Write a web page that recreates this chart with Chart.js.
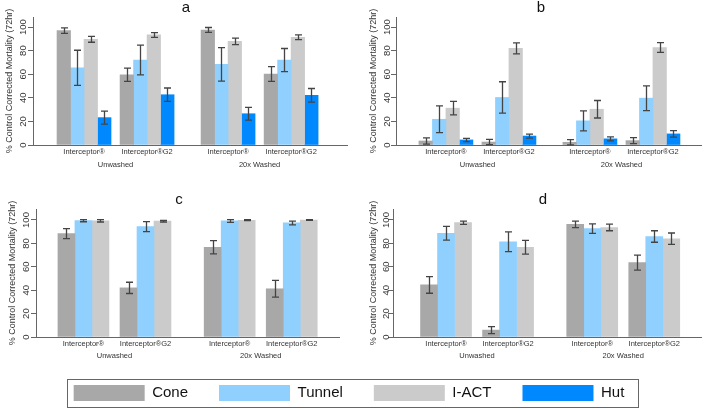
<!DOCTYPE html>
<html>
<head>
<meta charset="utf-8">
<script src="https://cdn.jsdelivr.net/npm/chart.js@4.4.0/dist/chart.umd.min.js"></script>
<style>
  html, body { margin: 0; padding: 0; background: #fff; }
  body { width: 708px; height: 409px; position: relative; overflow: hidden; }
  canvas.panel { position: absolute; }
  #legendBox { position: absolute; left: 67px; top: 379px; width: 572px; height: 29px;
    border: 1px solid #666; box-sizing: border-box; overflow: hidden; }
  #legendBox canvas { position: absolute; left: -29px; top: -26px; }
</style>
</head>
<body>
<canvas class="panel" id="chartA" width="372" height="180" style="left:0;top:0"></canvas>
<canvas class="panel" id="chartB" width="362" height="180" style="left:360px;top:0"></canvas>
<canvas class="panel" id="chartC" width="358" height="180" style="left:0;top:180px"></canvas>
<canvas class="panel" id="chartD" width="360" height="180" style="left:363px;top:180px"></canvas>
<div id="legendBox"><canvas id="legendChart" width="620" height="200"></canvas></div>
<script>
// categories
const methods = ['Cone', 'Tunnel', 'I-ACT', 'Hut'];
const products = ['Interceptor®', 'Interceptor®G2'];
const washes = ['Unwashed', '20x Washed'];
const yTicks = [0, 20, 40, 60, 80, 100];
const yTitle = '% Control Corrected Mortality (72hr)';

// values, order: Unwashed/Interceptor, Unwashed/G2, 20x/Interceptor, 20x/G2
const aCone = [97, 59.5, 97.5, 60.2];
const aConeErr = [2.3, 5.6, 2.1, 6.2];
const aTunnel = [65.4, 72, 68.3, 72];
const aTunnelErr = [14.9, 12.6, 14.2, 9.8];
const aIact = [89.6, 93.3, 87.8, 91.3];
const aIactErr = [2.5, 2, 2.8, 2];
const aHut = [23.2, 42.6, 26.5, 42.1];
const aHutErr = [5.5, 5.7, 5.4, 5.8];

const bCone = [3.4, 2.5, 2.3, 3.7];
const bConeErr = [2.7, 2.2, 2.2, 2.5];
const bTunnel = [21.8, 40.3, 20.5, 39.7];
const bTunnelErr = [11.3, 13.3, 8.5, 10.5];
const bIact = [31.2, 81.9, 30.3, 82.6];
const bIactErr = [5.7, 4.7, 7.4, 4.1];
const bHut = [4.3, 7.6, 5.2, 9.4];
const bHutErr = [1.4, 1.7, 1.7, 2.8];

const cCone = [88.4, 42, 76.7, 41.2];
const cConeErr = [4.3, 4.8, 5.7, 7.2];
const cTunnel = [99.4, 94.3, 99.2, 97.5];
const cTunnelErr = [0.9, 4.3, 1.2, 1.6];
const cIact = [99.3, 99, 99.8, 99.9];
const cIactErr = [1, 0.7, 0.4, 0.3];

const dCone = [44.5, 5.9, 96.3, 63.6];
const dConeErr = [7.1, 3, 2.8, 6.4];
const dTunnel = [88.7, 81.4, 92.6, 85.9];
const dTunnelErr = [5.9, 8.5, 4.1, 4.9];
const dIact = [97.7, 76.7, 93.6, 84];
const dIactErr = [1.4, 5.8, 2.8, 4.9];

const colors = ['#a8a8a8', '#8fd0ff', '#cbcbcb', '#0088ff'];
const FONT = "'Liberation Sans', Arial, sans-serif";
Chart.defaults.font.family = FONT;
Chart.defaults.color = '#333';

// draws the +/- error whiskers on top of each bar
const errorBars = {
  id: 'errorBars',
  afterDatasetsDraw(chart) {
    const ctx = chart.ctx;
    const y = chart.scales.y;
    ctx.save();
    ctx.strokeStyle = '#444';
    ctx.lineWidth = 1.3;
    chart.data.datasets.forEach((ds, i) => {
      chart.getDatasetMeta(i).data.forEach((bar, j) => {
        const v = ds.data[j].y, e = ds.errors[j];
        const hi = y.getPixelForValue(v + e);
        const lo = y.getPixelForValue(v - e);
        const x = Math.round(bar.x) + 0.5;
        ctx.beginPath();
        ctx.moveTo(x, hi); ctx.lineTo(x, lo);
        ctx.moveTo(x - 3.5, hi); ctx.lineTo(x + 3.5, hi);
        ctx.moveTo(x - 3.5, lo); ctx.lineTo(x + 3.5, lo);
        ctx.stroke();
      });
    });
    ctx.restore();
  }
};

// y tick labels turned to read bottom-to-top, like the R original
function verticalTickLabels(offset) {
  return {
    id: 'verticalTickLabels',
    afterDraw(chart) {
      const ctx = chart.ctx;
      const y = chart.scales.y;
      ctx.save();
      ctx.fillStyle = '#333';
      ctx.font = '9.5px ' + FONT;
      ctx.textAlign = 'center';
      ctx.textBaseline = 'middle';
      y.ticks.forEach(t => {
        ctx.save();
        ctx.translate(y.right - offset, y.getPixelForValue(t.value));
        ctx.rotate(-Math.PI / 2);
        ctx.fillText(String(t.value), 0, 0);
        ctx.restore();
      });
      ctx.restore();
    }
  };
}

function drawPanel(id, p) {
  const nBars = p.series.length;
  const prodStep = nBars + p.gapProd;
  const washStep = 2 * nBars + p.gapProd + p.gapWash;
  const pos = (w, k) => p.xFirst + w * washStep + k * prodStep;
  const clusterX = [];
  washes.forEach((w, wi) => products.forEach((pr, pi) => clusterX.push(pos(wi, pi))));
  const washX = washes.map((w, wi) => (pos(wi, 0) + pos(wi, 1)) / 2);

  const datasets = p.series.map((s, i) => ({
    label: methods[i],
    data: s.map((v, k) => ({ x: clusterX[k], y: v })),
    errors: p.errors[i],
    backgroundColor: colors[i],
    borderWidth: 0,
    barThickness: p.barPx
  }));

  new Chart(document.getElementById(id), {
    type: 'bar',
    data: { datasets },
    options: {
      responsive: false,
      animation: false,
      layout: { padding: 0 },
      plugins: {
        legend: { display: false },
        tooltip: { enabled: false },
        title: {
          display: true, text: p.title, color: '#111',
          font: { size: 15, weight: 'normal', lineHeight: 1 },
          padding: { top: p.titleTop, bottom: p.areaTop - p.titleTop - 15 }
        }
      },
      scales: {
        x: {
          type: 'linear', position: 'bottom', min: 0, max: p.xTotal, weight: 0, offset: false,
          grid: { display: false, drawTicks: false, offset: false },
          border: { display: true, color: '#666', width: 1 },
          afterBuildTicks: s => { s.ticks = clusterX.map(v => ({ value: v })); },
          afterFit: s => { s.height = p.xLabelH; },
          ticks: { autoSkip: false, maxRotation: 0, padding: 2, color: '#333',
            font: { size: 7.5 }, callback: (v, i) => products[i % 2] }
        },
        x2: {
          type: 'linear', position: 'bottom', min: 0, max: p.xTotal, weight: 1, offset: false,
          grid: { display: false, drawTicks: false, offset: false },
          border: { display: false },
          afterBuildTicks: s => { s.ticks = washX.map(v => ({ value: v })); },
          afterFit: s => { s.height = p.washLabelH; },
          ticks: { autoSkip: false, maxRotation: 0, padding: 3, color: '#333',
            font: { size: 7.5 }, callback: (v, i) => washes[i] }
        },
        y: {
          min: 0, max: p.yMax,
          afterBuildTicks: s => { s.ticks = yTicks.map(v => ({ value: v })); },
          afterFit: s => { s.width = p.areaLeft; },
          border: { display: true, color: '#666', width: 1 },
          grid: { drawOnChartArea: false, drawTicks: true, tickLength: 5, color: '#666' },
          ticks: { display: false },
          title: { display: true, text: yTitle, color: '#333', font: { size: 9 },
            padding: { top: p.yTitlePad, bottom: 0 } }
        },
        yr: {
          position: 'right', display: true,
          grid: { display: false, drawTicks: false }, border: { display: false },
          ticks: { display: false },
          afterFit: s => { s.width = p.rightPad; }
        }
      }
    },
    plugins: [errorBars, verticalTickLabels(p.tickOffset)]
  });
}

drawPanel('chartA', {
  title: 'a', series: [aCone, aTunnel, aIact, aHut], errors: [aConeErr, aTunnelErr, aIactErr, aHutErr],
  areaLeft: 33, rightPad: 25, titleTop: 0, areaTop: 17, yMax: 108.5, yTitlePad: 4, tickOffset: 10,
  xFirst: 3.78, xTotal: 23.26, barPx: 13.5, gapProd: 0.67, gapWash: 2,
  xLabelH: 12, washLabelH: 23
});
drawPanel('chartB', {
  title: 'b', series: [bCone, bTunnel, bIact, bHut], errors: [bConeErr, bTunnelErr, bIactErr, bHutErr],
  areaLeft: 36, rightPad: 21, titleTop: 0, areaTop: 17, yMax: 108.5, yTitlePad: 8, tickOffset: 8.5,
  xFirst: 3.7, xTotal: 22.6, barPx: 13.5, gapProd: 0.67, gapWash: 2,
  xLabelH: 12, washLabelH: 23
});
drawPanel('chartC', {
  title: 'c', series: [cCone, cTunnel, cIact], errors: [cConeErr, cTunnelErr, cIactErr],
  areaLeft: 36, rightPad: 19, titleTop: 12, areaTop: 29, yMax: 109.4, yTitlePad: 7, tickOffset: 10,
  xFirst: 2.79, xTotal: 17.82, barPx: 17, gapProd: 0.65, gapWash: 1.95,
  xLabelH: 11, washLabelH: 12
});
drawPanel('chartD', {
  title: 'd', series: [dCone, dTunnel, dIact], errors: [dConeErr, dTunnelErr, dIactErr],
  areaLeft: 30, rightPad: 22, titleTop: 12, areaTop: 29, yMax: 109.4, yTitlePad: 5, tickOffset: 6.5,
  xFirst: 3.12, xTotal: 18.12, barPx: 17, gapProd: 0.65, gapWash: 1.95,
  xLabelH: 11, washLabelH: 12
});

// shared legend
new Chart(document.getElementById('legendChart'), {
  type: 'bar',
  data: {
    labels: [],
    datasets: methods.map((m, i) => ({ label: m, data: [], backgroundColor: colors[i], borderWidth: 0 }))
  },
  options: {
    responsive: false,
    animation: false,
    scales: { x: { display: false }, y: { display: false } },
    plugins: {
      tooltip: { enabled: false },
      legend: {
        display: true, position: 'top',
        labels: { boxWidth: 71, boxHeight: 16, padding: 31, color: '#111', font: { size: 15 } }
      }
    }
  }
});
</script>
</body>
</html>
